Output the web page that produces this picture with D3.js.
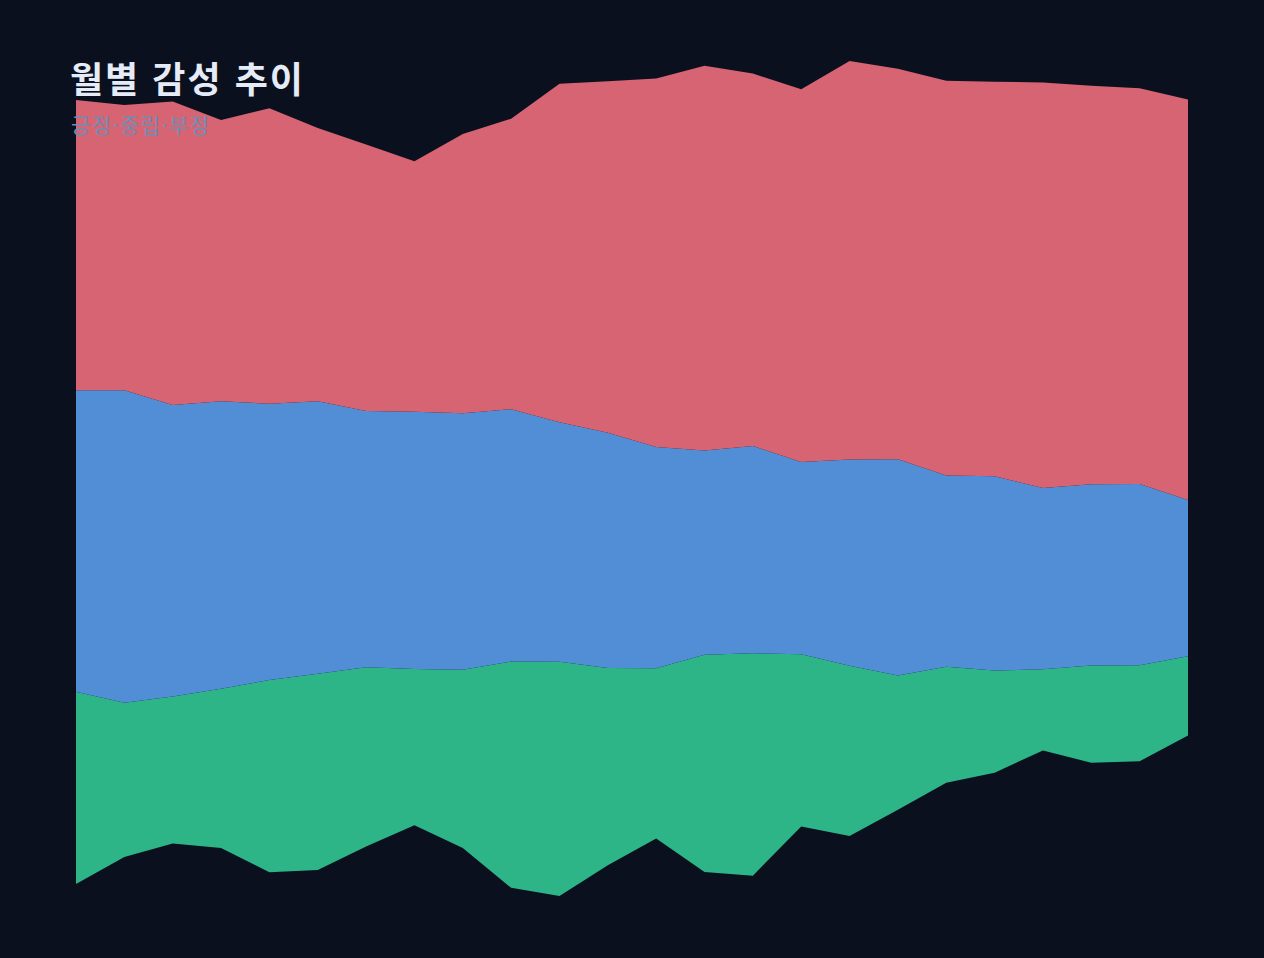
<!DOCTYPE html>
<html lang="ko">
<head>
<meta charset="utf-8">
<title>월별 감성 추이</title>
<script src="https://cdn.jsdelivr.net/npm/d3@7"></script>
<style>
    html, body {
        margin: 0;
        padding: 0;
        background: #0a101e;
    }
    #chart {
        width: 1264px;
        height: 958px;
    }
    .title {
        font-family: "Noto Sans CJK KR", "Noto Sans", sans-serif;
        font-weight: 700;
        fill: #e6ecf7;
        letter-spacing: 2px;
    }
    .subtitle {
        font-family: "Noto Sans CJK KR", "Noto Sans", sans-serif;
        fill: #6f8db4;
        letter-spacing: 1.5px;
    }
</style>
</head>
<body>
<div id="chart"></div>
<script>
// months (x categories)
const months = [
    "2023-01", "2023-02", "2023-03", "2023-04", "2023-05", "2023-06",
    "2023-07", "2023-08", "2023-09", "2023-10", "2023-11", "2023-12",
    "2024-01", "2024-02", "2024-03", "2024-04", "2024-05", "2024-06",
    "2024-07", "2024-08", "2024-09", "2024-10", "2024-11", "2024-12"
];

// sentiment series
const positive = [192, 154, 147, 159, 192, 196, 179, 156, 178, 226, 234, 197,
                  170, 217, 222, 172, 170, 134, 116, 102, 81, 97, 96, 79];
const neutral = [301, 312, 291, 287, 276, 272, 256, 257, 256, 252, 239, 235,
                 221, 204, 207, 192, 206, 216, 191, 194, 181, 181, 181, 156];
const negative = [290, 285, 303, 281, 295, 273, 266, 250, 279, 290, 338, 351,
                  368, 384, 372, 372, 398, 390, 394, 394, 405, 398, 395, 400];

const keys = ["긍정", "중립", "부정"];
const colors = ["#2db587", "#518ed6", "#d66473"];

// wiggle baseline, every layer counted the same (not weighted by size)
function offsetEvenWiggle(series, order) {
    const n = series.length;
    if (!n) return;
    const s0 = series[order[0]];
    const m = s0.length;
    let y = 0;
    for (let j = 1; j < m; ++j) {
        let s2 = 0;
        for (let i = 0; i < n; ++i) {
            const si = series[order[i]];
            let s3 = (si[j][1] - si[j - 1][1]) / 2;
            for (let k = 0; k < i; ++k) {
                const sk = series[order[k]];
                s3 += sk[j][1] - sk[j - 1][1];
            }
            s2 += s3;
        }
        s0[j - 1][1] += s0[j - 1][0] = y;
        y -= s2 / n;
    }
    s0[m - 1][1] += s0[m - 1][0] = y;
    d3.stackOffsetNone(series, order);
}

class streamClass {
    constructor(item) {
        this.id = item.id;
        this.w = item.w;
        this.h = item.h;
        this.margin = {t: 61, l: 76, r: 76, b: 62};
        this.selectPlot = d3.select(`#${this.id}`);
    }

    execute() {
        this.init();
        this.createSVG();
        this.drawStream();
        this.drawTitle();
    }

    init() {
        this.rows = months.map((m, i) => ({
            month: m,
            "긍정": positive[i],
            "중립": neutral[i],
            "부정": negative[i]
        }));

        this.series = d3.stack()
            .keys(keys)
            .order(d3.stackOrderNone)
            .offset(offsetEvenWiggle)(this.rows);

        this.x = d3.scalePoint()
            .domain(months)
            .range([this.margin.l, this.w - this.margin.r]);

        this.y = d3.scaleLinear()
            .domain([
                d3.min(this.series, (s) => d3.min(s, (d) => d[0])),
                d3.max(this.series, (s) => d3.max(s, (d) => d[1]))
            ])
            .range([this.h - this.margin.b, this.margin.t]);

        this.scaleColor = d3.scaleOrdinal().domain(keys).range(colors);
    }

    createSVG() {
        this.plot = this.selectPlot.append("svg")
            .attr("width", this.w)
            .attr("height", this.h)
            .attr("viewBox", `0 0 ${this.w} ${this.h}`)
            .attr("xmlns", "http://www.w3.org/2000/svg");
    }

    drawStream() {
        const area = d3.area()
            .x((d) => this.x(d.data.month))
            .y0((d) => this.y(d[0]))
            .y1((d) => this.y(d[1]));

        this.plot.append("g")
            .attr("class", "layers")
            .selectAll("path")
            .data(this.series)
            .join("path")
            .attr("fill", (d) => this.scaleColor(d.key))
            .attr("d", area);
    }

    drawTitle() {
        this.plot.append("text")
            .attr("class", "title")
            .attr("x", 70)
            .attr("y", 93)
            .style("font-size", "36px")
            .text("월별 감성 추이");

        this.plot.append("text")
            .attr("class", "subtitle")
            .attr("x", 71)
            .attr("y", 133)
            .style("font-size", "21px")
            .text("긍정·중립·부정");
    }
}

const stream = new streamClass({id: "chart", w: 1264, h: 958});
stream.execute();
</script>
</body>
</html>
